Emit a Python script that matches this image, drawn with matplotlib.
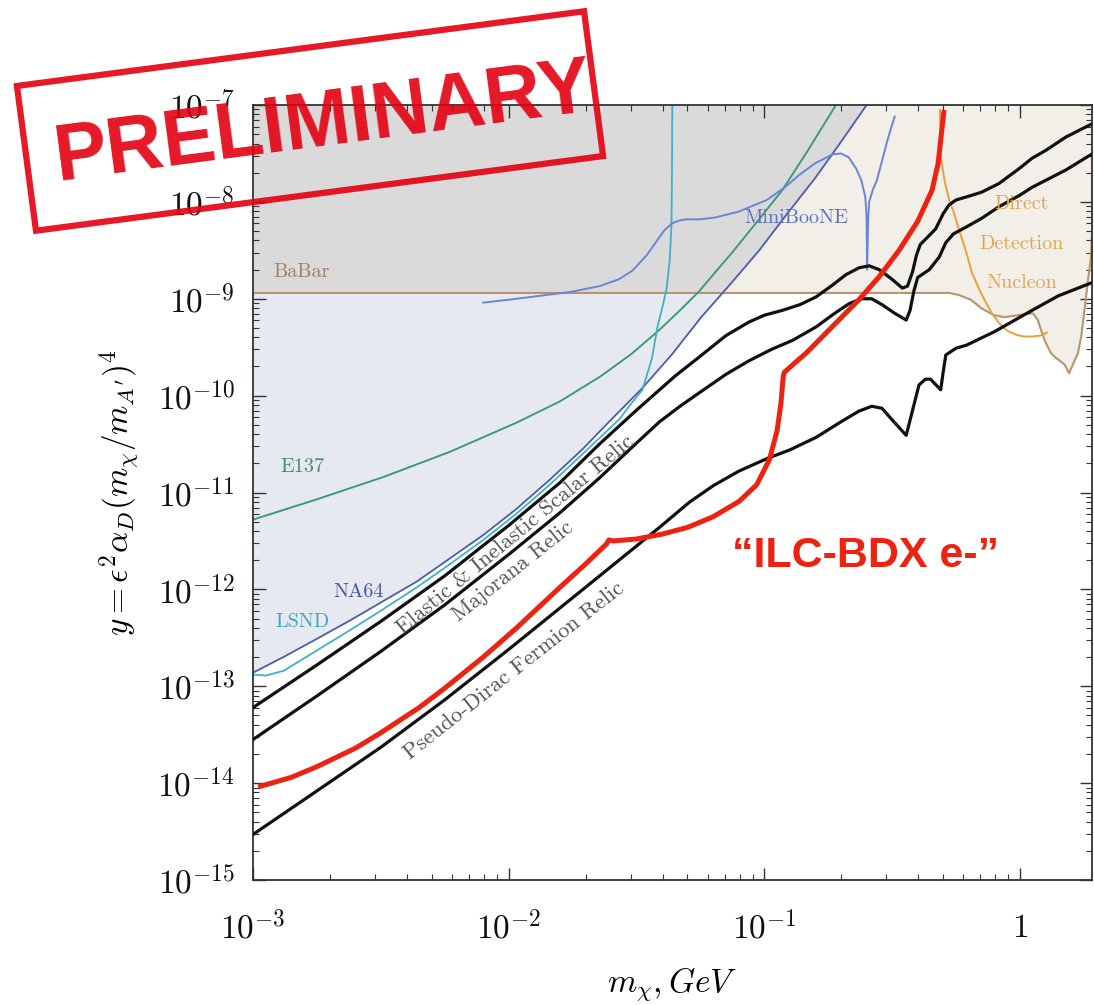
import numpy as np
import matplotlib
matplotlib.use("Agg")
import matplotlib.pyplot as plt
from matplotlib.ticker import LogLocator, NullFormatter
from matplotlib.patches import Rectangle

plt.rcParams['mathtext.fontset'] = 'cm'
plt.rcParams['font.serif'] = ['cmr10', 'DejaVu Serif']
plt.rcParams['axes.unicode_minus'] = False

# all curves as log10(m_chi / GeV), log10(y)
scalar_lx = [-3.0, -2.75, -2.5, -2.25, -2.0, -1.8, -1.645, -1.5, -1.35, -1.254, -1.15, -1.06, -1.0,
             -0.93, -0.86, -0.797, -0.734, -0.68, -0.629, -0.59, -0.55, -0.50, -0.46, -0.44, -0.42,
             -0.405, -0.39, -0.36, -0.33, -0.30, -0.277, -0.25, -0.211, -0.15, -0.082, 0.0, 0.047,
             0.1, 0.18, 0.285]
scalar_ly = [-13.22, -12.78, -12.33, -11.86, -11.34, -10.90, -10.50, -10.15, -9.80, -9.60, -9.38, -9.24,
             -9.17, -9.12, -9.06, -8.98, -8.86, -8.75, -8.68, -8.66, -8.70, -8.80, -8.89, -8.87, -8.72,
             -8.55, -8.44, -8.36, -8.28, -8.12, -8.03, -7.98, -7.95, -7.90, -7.81, -7.65, -7.55,
             -7.47, -7.33, -7.19]

majorana_lx = [-3.0, -2.75, -2.5, -2.25, -2.0, -1.8, -1.645, -1.5, -1.41, -1.33, -1.254, -1.15, -1.06,
               -0.97, -0.89, -0.797, -0.73, -0.668, -0.62, -0.58, -0.54, -0.49, -0.445, -0.43, -0.415,
               -0.40, -0.355, -0.316, -0.29, -0.26, -0.211, -0.15, -0.082, 0.0, 0.047, 0.18, 0.285]
majorana_ly = [-13.55, -13.10, -12.64, -12.16, -11.64, -11.21, -10.85, -10.49, -10.27, -10.11, -9.97,
               -9.78, -9.64, -9.52, -9.43, -9.29, -9.16, -9.05, -9.00, -9.00, -9.06, -9.15, -9.22,
               -9.12, -8.92, -8.78, -8.70, -8.57, -8.42, -8.33, -8.26, -8.17, -8.05, -7.93, -7.85,
               -7.67, -7.50]

pdirac_lx = [-3.0, -2.75, -2.5, -2.25, -2.0, -1.7, -1.41, -1.293, -1.2, -1.1, -0.99, -0.9, -0.797,
             -0.70, -0.63, -0.58, -0.54, -0.50, -0.445, -0.42, -0.395, -0.37, -0.35, -0.31, -0.30,
             -0.29, -0.25, -0.21, -0.1, 0.047, 0.15, 0.285]
pdirac_ly = [-14.53, -14.08, -13.63, -13.14, -12.62, -11.98, -11.36, -11.10, -10.93, -10.78, -10.65,
             -10.56, -10.43, -10.27, -10.16, -10.11, -10.13, -10.25, -10.41, -10.15, -9.89, -9.83,
             -9.83, -9.94, -9.75, -9.58, -9.51, -9.48, -9.34, -9.12, -8.97, -8.83]

ilc_lx = [-2.98, -2.85, -2.75, -2.6, -2.5, -2.35, -2.25, -2.1, -1.97, -1.8, -1.7, -1.617, -1.608,
          -1.59, -1.5, -1.4, -1.3, -1.2, -1.098, -1.03, -0.98, -0.95, -0.935, -0.926, -0.922, -0.88,
          -0.836, -0.75, -0.63, -0.55, -0.473, -0.40, -0.344, -0.32, -0.297]
ilc_ly = [-14.04, -13.94, -13.83, -13.64, -13.48, -13.22, -13.02, -12.70, -12.40, -11.98, -11.74,
          -11.53, -11.49, -11.50, -11.48, -11.43, -11.36, -11.25, -11.09, -10.92, -10.66, -10.36,
          -10.08, -9.80, -9.76, -9.66, -9.56, -9.33, -9.01, -8.77, -8.50, -8.20, -7.88, -7.60, -7.05]

na64_lx = [-3.0, -2.875, -2.75, -2.62, -2.49, -2.36, -2.23, -2.1, -1.97, -1.84, -1.71, -1.6, -1.48,
           -1.36, -1.25, -1.13, -1.02, -0.91, -0.80, -0.70, -0.60]
na64_ly = [-12.86, -12.69, -12.51, -12.32, -12.12, -11.92, -11.68, -11.44, -11.17, -10.87, -10.55,
           -10.25, -9.93, -9.57, -9.20, -8.84, -8.50, -8.12, -7.75, -7.38, -7.0]

lsnd_lx = [-3.0, -2.95, -2.88, -2.75, -2.62, -2.5, -2.36, -2.23, -2.1, -1.97, -1.84, -1.71, -1.63,
           -1.566, -1.52, -1.477, -1.44, -1.418, -1.40, -1.383, -1.37, -1.363, -1.361, -1.36]
lsnd_ly = [-12.88, -12.89, -12.84, -12.63, -12.42, -12.22, -11.98, -11.74, -11.49, -11.22, -10.92,
           -10.60, -10.40, -10.24, -10.08, -9.94, -9.62, -9.29, -9.10, -8.91, -8.60, -8.22, -7.6, -7.0]

e137_lx = [-3.0, -2.75, -2.49, -2.23, -1.97, -1.8, -1.64, -1.52, -1.41, -1.33, -1.254, -1.19, -1.125,
           -1.03, -0.93, -0.83, -0.72]
e137_ly = [-11.28, -11.07, -10.84, -10.58, -10.28, -10.06, -9.80, -9.57, -9.32, -9.12, -8.92, -8.72,
           -8.52, -8.21, -7.88, -7.47, -7.0]

miniboone_lx = [-2.10, -2.0, -1.88, -1.76, -1.645, -1.57, -1.516, -1.46, -1.42, -1.39, -1.36, -1.33,
                -1.305, -1.25, -1.19, -1.10, -0.99, -0.92, -0.863, -0.80, -0.734, -0.70, -0.67, -0.64,
                -0.62, -0.605, -0.60, -0.598, -0.594, -0.59, -0.575, -0.56, -0.54, -0.52, -0.50, -0.49]
miniboone_ly = [-9.04, -9.01, -8.97, -8.93, -8.87, -8.80, -8.71, -8.55, -8.40, -8.29, -8.22, -8.19,
                -8.18, -8.18, -8.16, -8.10, -7.98, -7.85, -7.72, -7.60, -7.51, -7.50, -7.54, -7.66,
                -7.78, -7.95, -8.15, -8.70, -8.20, -8.00, -7.87, -7.78, -7.58, -7.38, -7.20, -7.12]

babar_lx = [-3.0, -0.277, -0.24, -0.192, -0.15, -0.102, -0.06, -0.008, 0.051, 0.07, 0.082, 0.10,
            0.121, 0.14, 0.161, 0.175, 0.192, 0.21, 0.227, 0.24, 0.251, 0.266, 0.278, 0.282, 0.285]
babar_ly = [-8.94, -8.94, -8.96, -9.01, -9.10, -9.17, -9.19, -9.17, -9.15, -9.22, -9.32, -9.45,
            -9.56, -9.61, -9.65, -9.68, -9.77, -9.66, -9.56, -9.38, -9.15, -8.81, -8.57, -8.3, -7.0]

dd_lx = [-0.313, -0.311, -0.309, -0.295, -0.277, -0.26, -0.238, -0.21, -0.188, -0.16, -0.133, -0.11,
         -0.082, -0.05, -0.016, 0.015, 0.047, 0.08, 0.105]
dd_ly = [-7.05, -7.30, -7.54, -7.78, -7.98, -8.10, -8.29, -8.52, -8.73, -8.90, -9.04, -9.15,
         -9.25, -9.33, -9.37, -9.39, -9.39, -9.38, -9.35]

xticks = [1e-3, 1e-2, 1e-1, 1]
xticklabels = [r'$10^{-3}$', r'$10^{-2}$', r'$10^{-1}$', r'$1$']
yticks = [10.0 ** k for k in range(-15, -6)]
yticklabels = [r'$10^{-%d}$' % k for k in range(15, 6, -1)]


def pw(a):
    return 10.0 ** np.array(a)


fig = plt.figure(figsize=(10.94, 10.05), dpi=100)
ax = fig.add_axes([0.2313, 0.1244, 0.7667, 0.7711])
ax.set_xscale('log')
ax.set_yscale('log')
ax.set_xlim(1e-3, 1.91)
ax.set_ylim(1e-15, 1e-7)

# shaded exclusions
ax.fill_between(pw(babar_lx), pw(babar_ly), 1e-7, color='#f2eee8', lw=0, zorder=0)
ax.fill_between(pw(na64_lx), pw(na64_ly), 1e-7, color='#1a2a70', alpha=0.1, lw=0, zorder=0.5)

ax.plot(pw(babar_lx), pw(babar_ly), color='#b8956a', lw=1.5, zorder=2)
ax.plot(pw(dd_lx), pw(dd_ly), color='#e8a23a', lw=1.4, zorder=2)
ax.plot(pw(e137_lx), pw(e137_ly), color='#3f9a78', lw=1.4, zorder=2)
ax.plot(pw(na64_lx), pw(na64_ly), color='#4a5db0', lw=1.3, zorder=2)
ax.plot(pw(lsnd_lx), pw(lsnd_ly), color='#3fb0c8', lw=1.3, zorder=2)
ax.plot(pw(miniboone_lx), pw(miniboone_ly), color='#6a85d8', lw=1.4, zorder=2)

for lx, ly in [(scalar_lx, scalar_ly), (majorana_lx, majorana_ly), (pdirac_lx, pdirac_ly)]:
    ax.plot(pw(lx), pw(ly), color='#111111', lw=2.3, zorder=3)
ax.plot(pw(ilc_lx), pw(ilc_ly), color='#ee2211', lw=3.6, zorder=4, solid_capstyle='butt')

# labels on the plot
lab = dict(family='serif', fontsize=14.5)
ax.text(10**-2.92, 10**-8.72, 'BaBar', color='#a08060', ha='left', va='center', **lab)
ax.text(10**-0.877, 10**-8.17, 'MiniBooNE', color='#5b6fc4', ha='center', va='center', **lab)
for t, ly in [('Direct', -8.02), ('Detection', -8.44), ('Nucleon', -8.84)]:
    ax.text(10**0.005, 10**ly, t, color='#e0a650', ha='center', va='center', **lab)
ax.text(10**-2.894, 10**-10.74, 'E137', color='#3f8f6f', ha='left', va='center', **lab)
ax.text(10**-2.687, 10**-12.03, 'NA64', color='#4455a8', ha='left', va='center', **lab)
ax.text(10**-2.914, 10**-12.34, 'LSND', color='#3aa6c4', ha='left', va='center', **lab)
rel = dict(family='serif', fontsize=16, color='#555555', ha='center', va='center',
           rotation_mode='anchor')
ax.text(10**-1.975, 10**-11.44, 'Elastic & Inelastic Scalar Relic', rotation=39.5, **rel)
ax.text(10**-1.985, 10**-11.81, 'Majorana Relic', rotation=38.5, **rel)
ax.text(10**-1.98, 10**-12.84, 'Pseudo-Dirac Fermion Relic', rotation=38.2, **rel)
ax.text(10**-0.603, 10**-11.66, '\u201cILC-BDX e-\u201d', color='#ee2211', fontsize=31,
        fontweight='bold', family=['Liberation Sans', 'DejaVu Sans'], ha='center', va='center')

# axes cosmetics
ax.set_xticks(xticks)
ax.set_xticklabels(xticklabels)
ax.set_yticks(yticks)
ax.set_yticklabels(yticklabels)
ax.xaxis.set_minor_locator(LogLocator(base=10, subs=np.arange(2, 10), numticks=50))
ax.yaxis.set_minor_locator(LogLocator(base=10, subs=np.arange(2, 10), numticks=50))
ax.xaxis.set_minor_formatter(NullFormatter())
ax.yaxis.set_minor_formatter(NullFormatter())
ax.tick_params(which='both', direction='in', top=True, right=True, colors='#333333')
ax.tick_params(which='major', length=9, width=1.0, labelsize=24, labelcolor='#111111')
ax.tick_params(which='minor', length=4.5, width=0.8)
ax.tick_params(axis='x', which='major', pad=22)
ax.tick_params(axis='y', which='major', pad=13)
for s in ax.spines.values():
    s.set_color('#333333')
    s.set_linewidth(1.3)

ax.set_xlabel(r'$m_\chi, GeV$', fontsize=24, labelpad=14)
ax.set_ylabel(r"$y = \epsilon^2\alpha_D(m_\chi/m_{A'})^4$", fontsize=24, labelpad=12)

# "PRELIMINARY" stamp
red = '#e3000f'
box = Rectangle((3.10 - 2.86, 8.84 - 0.73), 5.72, 1.46, angle=7.5, rotation_point='center',
                transform=fig.dpi_scale_trans, fill=False, ec=red, lw=4.5, alpha=0.9, zorder=10)
fig.patches.append(box)
fig.text(3.24, 8.81, 'PRELIMINARY', transform=fig.dpi_scale_trans, rotation=7.5,
         rotation_mode='anchor', ha='center', va='center', color=red, alpha=0.9,
         fontsize=57, fontweight='bold', family=['Liberation Sans', 'DejaVu Sans'], zorder=11)

fig.savefig('out.png', dpi=100)
